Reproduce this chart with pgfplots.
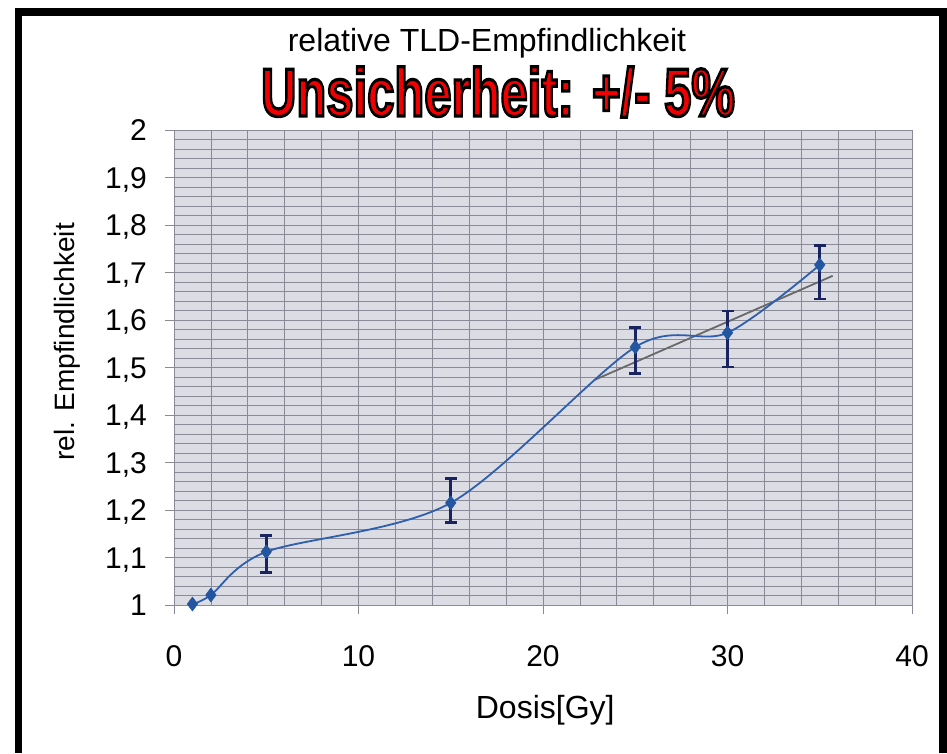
\documentclass[border=0pt]{standalone}
\usepackage{pgfplots}
\pgfplotsset{compat=1.18}
\usepackage{pgfplotstable}
\usepackage{fontspec}
\setmainfont{Liberation Sans}
\usepackage{graphicx}
\definecolor{bgplot}{RGB}{220,220,229}
\definecolor{gridc}{RGB}{138,138,150}
\definecolor{lineblue}{RGB}{45,95,172}
\definecolor{markblue}{RGB}{35,85,160}
\definecolor{errnavy}{RGB}{25,35,95}
\definecolor{trendgray}{RGB}{105,105,105}
\definecolor{titlered}{RGB}{240,0,0}
\newcommand\redtitle{\scalebox{0.72}[1]{\fontsize{68}{70}\selectfont\bfseries\color{titlered}\special{pdf:code 0 0 0 RG 2 Tr 3.2 w}Unsicherheit: +/- 5\%\special{pdf:code 0 Tr}}}

\pgfplotstableread{
x y
1 1.002
2 1.021
5 1.112
15 1.215
25 1.543
30 1.573
35 1.716
}\datmain

\pgfplotstableread{
x y ep em
5 1.112 0.035 0.043
15 1.215 0.052 0.042
25 1.543 0.042 0.055
30 1.573 0.046 0.072
35 1.716 0.040 0.072
}\daterr

\begin{document}
\begin{tikzpicture}[x=1pt,y=1pt]
\useasboundingbox[fill=white] (0,0) rectangle (947,753);
\fill[black] (15,0) rectangle (22,745);
\fill[black] (15,737) rectangle (947,745);
\fill[black] (939,0) rectangle (947,745);

\begin{axis}[
  at={(174pt,148pt)}, anchor=south west,
  scale only axis, width=738pt, height=475pt,
  xmin=0, xmax=40, ymin=1, ymax=2,
  clip=false,
  axis background/.style={fill=bgplot},
  grid=both,
  major grid style={gridc, line width=0.9pt},
  minor grid style={gridc, line width=0.7pt},
  xtick={0,10,20,30,40},
  minor xtick={2,4,...,38},
  ytick={1,1.1,1.2,1.3,1.4,1.5,1.6,1.7,1.8,1.9,2},
  minor ytick={1,1.02,...,2},
  tick align=outside, tick pos=left,
  major tick length=9pt, minor tick length=0pt,
  tick style={gridc, line width=0.9pt},
  axis line style={gridc, line width=0.9pt},
  ticklabel style={font=\fontsize{30}{36}\selectfont, text=black},
  /pgf/number format/assume math mode=true,
  /pgf/number format/use comma,
  yticklabel style={anchor=base east, inner sep=0pt, xshift=-18pt, yshift=-10.7pt},
  xticklabel style={anchor=base, inner sep=0pt, yshift=-52pt},
  xlabel={Dosis[Gy]},
  xlabel style={at={(axis description cs:0.503,-0.221)}, anchor=center, font=\fontsize{32}{38}\selectfont},
  ylabel={rel. Empfindlichkeit},
  ylabel style={at={(axis description cs:-0.145,0.554)}, anchor=center, font=\fontsize{28}{34}\selectfont},
]
\addplot[trendgray, line width=1.8pt] coordinates {(22.8,1.474) (35.7,1.693)};
\addplot[only marks, mark=none,
  error bars/.cd, y dir=both, y explicit,
  error bar style={errnavy, line width=2.8pt},
  error mark options={errnavy, line width=2.8pt, mark size=6pt, rotate=90}]
  table[x=x, y=y, y error plus=ep, y error minus=em] {\daterr};
\addplot[lineblue, line width=1.8pt, smooth, mark=diamond*, mark size=7pt,
  mark options={markblue, fill=markblue, line width=0.5pt}]
  table[x=x, y=y] {\datmain};
\end{axis}

\node[font=\fontsize{32}{38}\selectfont] at (487,710) {relative TLD-Empfindlichkeit};
\node at (498,661) {\redtitle};
\end{tikzpicture}
\end{document}
